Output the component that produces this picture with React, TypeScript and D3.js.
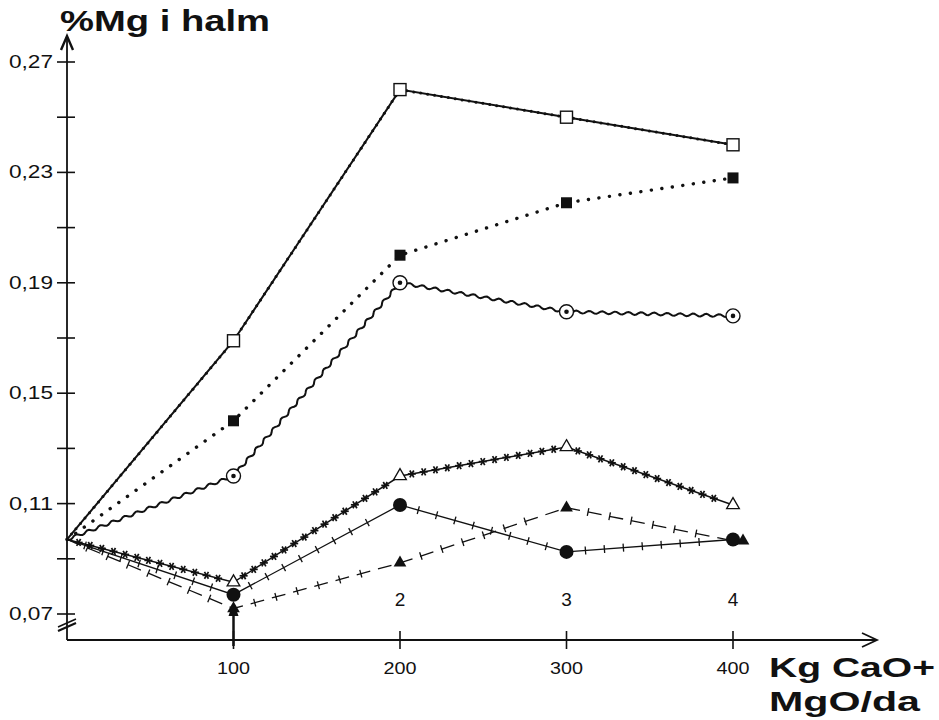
import React from "react";
import * as d3 from "d3";

// kg CaO + MgO per dekar
const doses = [0, 100, 200, 300, 400];
const yTicks = [0.07, 0.09, 0.11, 0.13, 0.15, 0.17, 0.19, 0.21, 0.23, 0.25, 0.27];
const yLabelled = [0.07, 0.11, 0.15, 0.19, 0.23, 0.27];
const xTicks = [100, 200, 300, 400];
const xTopLabels = ["", "2", "3", "4"];

// % Mg in straw, one array per treatment
const openSquare = [0.097, 0.169, 0.26, 0.25, 0.24];
const filledSquare = [0.097, 0.14, 0.2, 0.219, 0.228];
const circledDot = [0.097, 0.12, 0.19, 0.1795, 0.178];
const openTriangle = [0.097, 0.0815, 0.12, 0.1305, 0.1095];
const filledCircle = [0.097, 0.077, 0.1095, 0.0925, 0.097];
const filledTriangle = [0.097, 0.072, 0.0885, 0.1085, 0.0965];

const W = 939;
const H = 720;
const font = "'Liberation Sans', Arial, sans-serif";

type Pt = [number, number];

// sample positions along a polyline every `step` px
function along(pts: Pt[], step: number) {
  const out: { x: number; y: number; a: number }[] = [];
  for (let i = 0; i < pts.length - 1; i++) {
    const [x0, y0] = pts[i];
    const [x1, y1] = pts[i + 1];
    const len = Math.hypot(x1 - x0, y1 - y0);
    const a = Math.atan2(y1 - y0, x1 - x0);
    const n = Math.floor(len / step);
    for (let k = 1; k < n; k++) {
      const t = (k * step) / len;
      out.push({ x: x0 + (x1 - x0) * t, y: y0 + (y1 - y0) * t, a });
    }
  }
  return out;
}

function wavy(pts: Pt[], amp: number, wl: number) {
  let d = `M${pts[0][0]},${pts[0][1]}`;
  for (let i = 0; i < pts.length - 1; i++) {
    const [x0, y0] = pts[i];
    const [x1, y1] = pts[i + 1];
    const len = Math.hypot(x1 - x0, y1 - y0);
    const nx = -(y1 - y0) / len;
    const ny = (x1 - x0) / len;
    for (let s = 2; s <= len; s += 2) {
      const t = s / len;
      const off = amp * Math.sin((s / wl) * Math.PI * 2);
      d += `L${x0 + (x1 - x0) * t + nx * off},${y0 + (y1 - y0) * t + ny * off}`;
    }
  }
  return d;
}

export default function App() {
  const x = d3.scaleLinear().domain([0, 400]).range([67, 733]);
  const y = d3.scaleLinear().domain([0.07, 0.27]).range([614, 62]);
  const axisY = 640;
  const line = d3.line<Pt>();
  const fmt = (v: number) => d3.format(".2f")(v).replace(".", ",");

  const pts = (vals: number[]): Pt[] => vals.map((v, i) => [x(doses[i]), y(v)]);

  const p1 = pts(openSquare);
  const p2 = pts(filledSquare);
  const p3 = pts(circledDot);
  const p4 = pts(openTriangle);
  const p5 = pts(filledCircle);
  const p6 = pts(filledTriangle);

  const star = (cx: number, cy: number, key: string) => (
    <g key={key} transform={`translate(${cx},${cy})`} stroke="#111" strokeWidth={1.7}>
      {[0, 60, 120].map((r) => (
        <line key={r} x1={-4} y1={0} x2={4} y2={0} transform={`rotate(${r})`} />
      ))}
    </g>
  );

  const cross = (p: { x: number; y: number; a: number }, key: number) => (
    <line
      key={key}
      x1={p.x - 4 * Math.sin(p.a)}
      y1={p.y + 4 * Math.cos(p.a)}
      x2={p.x + 4 * Math.sin(p.a)}
      y2={p.y - 4 * Math.cos(p.a)}
      stroke="#111"
      strokeWidth={1.3}
    />
  );

  return (
    <svg width={W} height={H} style={{ position: "absolute", left: 0, top: 0, background: "#fff" }}>
      <rect width={W} height={H} fill="#fff" />

      {/* axes */}
      <g stroke="#111" strokeWidth={1.8} fill="none">
        <line x1={x(0)} y1={axisY} x2={x(0)} y2={38} />
        <path d={`M${x(0) - 6},${50} L${x(0)},${36} L${x(0) + 6},${50}`} strokeWidth={2.4} />
        <line x1={x(0)} y1={axisY} x2={876} y2={axisY} />
        <path d={`M${862},${axisY - 7} L${877},${axisY} L${862},${axisY + 7}`} />
        <line x1={x(0) - 9} y1={631} x2={x(0) + 9} y2={623} strokeWidth={2.2} />
        <line x1={x(0) - 9} y1={627} x2={x(0) + 9} y2={619} strokeWidth={1.4} />
      </g>

      {yTicks.map((t) => (
        <line key={t} x1={x(0) - 10} x2={x(0) + 8} y1={y(t)} y2={y(t)} stroke="#111" strokeWidth={1.6} />
      ))}
      {yLabelled.map((t) => (
        <text
          key={t}
          x={x(0) - 14}
          y={y(t) + 6}
          textAnchor="end"
          fontFamily={font}
          fontSize={18}
          textLength={44}
          lengthAdjust="spacingAndGlyphs"
          fill="#111"
        >
          {fmt(t)}
        </text>
      ))}

      {xTicks.map((t, i) => (
        <g key={t}>
          <line x1={x(t)} x2={x(t)} y1={axisY - 9} y2={axisY + 9} stroke="#111" strokeWidth={1.6} />
          <text
            x={x(t)}
            y={axisY + 34}
            textAnchor="middle"
            fontFamily={font}
            fontSize={17}
            textLength={33}
            lengthAdjust="spacingAndGlyphs"
            fill="#111"
          >
            {t}
          </text>
          {xTopLabels[i] && (
            <text x={x(t)} y={axisY - 34} textAnchor="middle" fontFamily={font} fontSize={19} fill="#111">
              {xTopLabels[i]}
            </text>
          )}
        </g>
      ))}
      {/* arrow marking the first application */}
      <line x1={x(100)} x2={x(100)} y1={axisY + 6} y2={612} stroke="#111" strokeWidth={2.5} />
      <path d={`M${x(100) - 5},${616} L${x(100)},${602} L${x(100) + 5},${616} Z`} fill="#111" />

      <text
        x={60}
        y={31}
        fontFamily={font}
        fontWeight="bold"
        fontSize={29}
        textLength={210}
        lengthAdjust="spacingAndGlyphs"
        fill="#111"
      >
        %Mg i halm
      </text>
      <text
        x={769}
        y={677}
        fontFamily={font}
        fontWeight="bold"
        fontSize={28}
        textLength={166}
        lengthAdjust="spacingAndGlyphs"
        fill="#111"
      >
        Kg CaO+
      </text>
      <text
        x={769}
        y={711}
        fontFamily={font}
        fontWeight="bold"
        fontSize={28}
        textLength={151}
        lengthAdjust="spacingAndGlyphs"
        fill="#111"
      >
        MgO/da
      </text>

      {/* series 1: solid beaded line, open squares */}
      <path d={line(p1)!} fill="none" stroke="#111" strokeWidth={2} />
      {along(p1, 7).map((p, i) => (
        <circle key={i} cx={p.x} cy={p.y} r={1.5} fill="#111" />
      ))}

      {/* series 2: dotted, filled squares */}
      <path d={line(p2)!} fill="none" stroke="#111" strokeWidth={3.4} strokeLinecap="round" strokeDasharray="0.1 10.5" />

      {/* series 3: wavy line, circled dots */}
      <path d={wavy(p3, 1.4, 13)} fill="none" stroke="#111" strokeWidth={2} />

      {/* series 4: star chain, open triangles */}
      <path d={line(p4)!} fill="none" stroke="#111" strokeWidth={1.5} />
      {along(p4, 12).map((p, i) => star(p.x, p.y, `s${i}`))}

      {/* series 5: ticked solid line, filled circles */}
      <path d={line(p5)!} fill="none" stroke="#111" strokeWidth={1.3} />
      {along(p5, 19).map(cross)}

      {/* series 6: dashed with crosses, filled triangles */}
      <path d={line(p6)!} fill="none" stroke="#111" strokeWidth={1.3} strokeDasharray="14 8" />
      {along(p6, 22).map(cross)}

      {/* markers */}
      {p1.slice(1).map(([cx, cy], i) => (
        <rect key={`a${i}`} x={cx - 6} y={cy - 6} width={12} height={12} fill="#fff" stroke="#111" strokeWidth={1.4} />
      ))}
      {p2.slice(1).map(([cx, cy], i) => (
        <rect key={`b${i}`} x={cx - 5.5} y={cy - 5.5} width={11} height={11} fill="#111" />
      ))}
      {p3.slice(1).map(([cx, cy], i) => (
        <g key={`c${i}`}>
          <circle cx={cx} cy={cy} r={7} fill="#fff" stroke="#111" strokeWidth={1.4} />
          <circle cx={cx} cy={cy} r={2.3} fill="#111" />
        </g>
      ))}
      {p4.slice(1).map(([cx, cy], i) => (
        <path
          key={`d${i}`}
          d={d3.symbol(d3.symbolTriangle, 70)()!}
          transform={`translate(${cx},${cy})`}
          fill="#fff"
          stroke="#111"
          strokeWidth={1.3}
        />
      ))}
      {p5.slice(1).map(([cx, cy], i) => (
        <circle key={`e${i}`} cx={cx} cy={cy} r={7} fill="#111" />
      ))}
      {p6.slice(1).map(([cx, cy], i) => (
        <path
          key={`f${i}`}
          d={d3.symbol(d3.symbolTriangle, 70)()!}
          transform={`translate(${cx + (i === 3 ? 10 : 0)},${cy})`}
          fill="#111"
        />
      ))}
    </svg>
  );
}
